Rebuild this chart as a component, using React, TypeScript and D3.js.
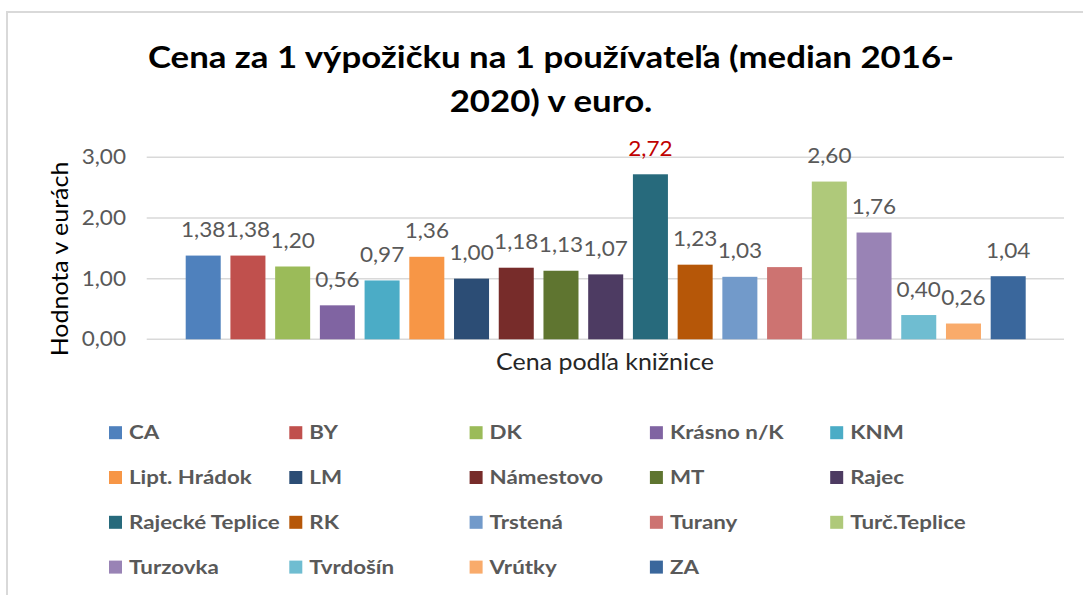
import React from "react";
import * as d3 from "d3";

const categories = [
  "CA", "BY", "DK", "Krásno n/K", "KNM",
  "Lipt. Hrádok", "LM", "Námestovo", "MT", "Rajec",
  "Rajecké Teplice", "RK", "Trstená", "Turany", "Turč.Teplice",
  "Turzovka", "Tvrdošín", "Vrútky", "ZA",
];
const values = [1.38, 1.38, 1.2, 0.56, 0.97, 1.36, 1.0, 1.18, 1.13, 1.07, 2.72, 1.23, 1.03, 1.19, 2.6, 1.76, 0.4, 0.26, 1.04];
const showLabel = [true, true, true, true, true, true, true, true, true, true, true, true, true, false, true, true, true, true, true];
const colors = [
  "#4F81BD", "#C0504D", "#9BBB59", "#8064A2", "#4BACC6",
  "#F79646", "#2C4D75", "#772C2A", "#5F7530", "#4D3B62",
  "#276A7C", "#B65708", "#729ACA", "#CD7371", "#AFC97A",
  "#9983B5", "#6FBDD1", "#F9AB6B", "#3A679C",
];
const yTicks = [0, 1, 2, 3];
const titleLines = ["Cena za 1 výpožičku na 1 používateľa (median 2016-", "2020) v euro."];
const yTitle = "Hodnota v eurách";
const xTitle = "Cena podľa knižnice";

const W = 1083;
const H = 595;
const font = "Lato, 'Open Sans', sans-serif";

type TProps = {
  x: number;
  y: number;
  sx: number;
  rotate?: number;
  anchor?: "start" | "middle" | "end";
  size: number;
  weight?: string;
  fill: string;
  children: React.ReactNode;
};

function T({ x, y, sx, rotate = 0, anchor = "start", size, weight = "normal", fill, children }: TProps) {
  return (
    <text
      transform={`translate(${x},${y}) rotate(${rotate}) scale(${sx},1)`}
      textAnchor={anchor}
      dy="0.35em"
      fontSize={size}
      fontWeight={weight}
      fill={fill}
    >
      {children}
    </text>
  );
}

export default function App() {
  const plotLeft = 146.7;
  const plotRight = 1064;
  const y = d3.scaleLinear().domain([0, 3]).range([339.3, 157.3]);
  const x = d3.scaleBand<string>().domain(categories).range([185.7, 1025.7]).paddingInner(0.217).paddingOuter(0);
  const fmt = (v: number) => d3.format(".2f")(v).replace(".", ",");

  const legendCols = 5;
  const legendX0 = 109;
  const legendDX = 180.3;
  const legendY0 = 432.7;
  const legendDY = 44.8;

  return (
    <svg width={W} height={H} style={{ position: "absolute", left: 0, top: 0, background: "#fff" }} fontFamily={font}>
      <rect x={0} y={0} width={W} height={H} fill="#fff" />
      <rect x={7} y={12} width={W + 20} height={H + 20} fill="none" stroke="#d9d9d9" strokeWidth={2} />
      {titleLines.map((t, i) => (
        <text
          key={i}
          transform={`translate(551,${68 + i * 44}) scale(1.16,1)`}
          textAnchor="middle"
          fontSize={30}
          fontWeight="bold"
          fill="#000"
        >
          {t}
        </text>
      ))}
      {yTicks.map((t) => (
        <g key={t}>
          <line x1={plotLeft} x2={plotRight} y1={y(t)} y2={y(t)} stroke="#d9d9d9" strokeWidth={1.5} />
          <T x={126} y={y(t)} sx={1.1} anchor="end" size={20.5} fill="#595959">
            {fmt(t)}
          </T>
        </g>
      ))}
      {categories.map((c, i) => (
        <rect key={c} x={x(c)} y={y(values[i])} width={x.bandwidth()} height={y(0) - y(values[i])} fill={colors[i]} />
      ))}
      {categories.map((c, i) =>
        showLabel[i] ? (
          <T
            key={c}
            x={(x(c) as number) + x.bandwidth() / 2}
            y={y(values[i]) - 25.5}
            sx={1.1}
            anchor="middle"
            size={20.5}
            fill={values[i] > 2.7 ? "#C00000" : "#595959"}
          >
            {fmt(values[i])}
          </T>
        ) : null
      )}
      <T x={60} y={259} sx={1.12} rotate={-90} anchor="middle" size={22.3} fill="#000">
        {yTitle}
      </T>
      <T x={605} y={362} sx={1.12} anchor="middle" size={22.3} fill="#262626">
        {xTitle}
      </T>
      {categories.map((c, i) => {
        const col = i % legendCols;
        const row = Math.floor(i / legendCols);
        const lx = legendX0 + col * legendDX;
        const ly = legendY0 + row * legendDY;
        return (
          <g key={c}>
            <rect x={lx} y={ly - 6.5} width={13} height={13} fill={colors[i]} />
            <T x={lx + 20} y={ly} sx={1.2} size={18.6} weight="bold" fill="#595959">
              {c}
            </T>
          </g>
        );
      })}
    </svg>
  );
}
